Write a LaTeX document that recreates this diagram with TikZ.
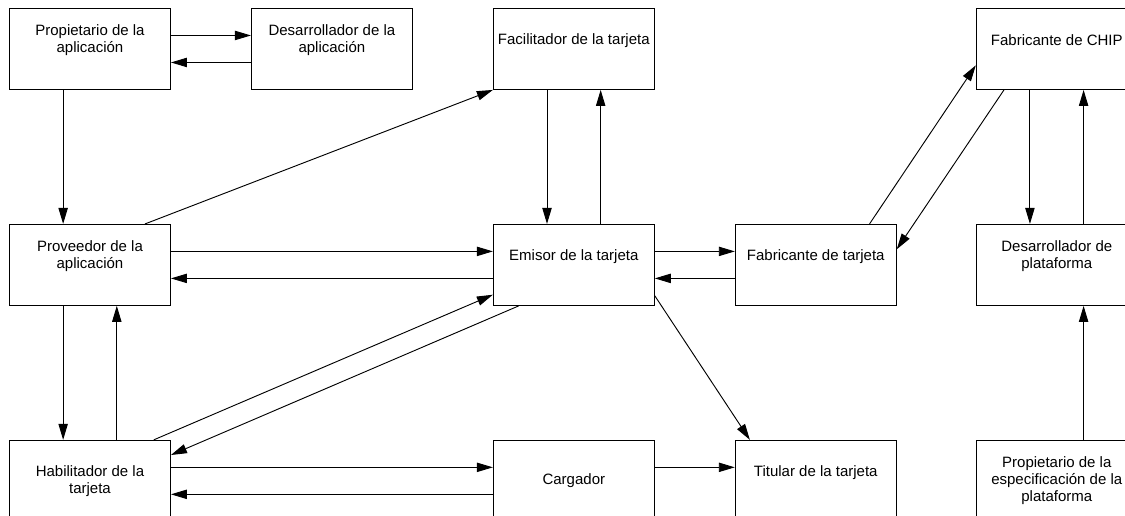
\documentclass[tikz,border=0pt]{standalone}
\usepackage{fontspec}
\setmainfont{Liberation Sans}
\usetikzlibrary{arrows.meta,calc,positioning}

\begin{document}
\begin{tikzpicture}[
	node distance=100.5pt and 60pt,
	caja/.style={
		draw,
		line width=0.7pt,
		minimum width=120.75pt,
		minimum height=60.75pt,
		inner sep=0pt
	},
	texto/.style={
		align=center,
		font=\fontsize{11.25}{12.75}\selectfont,
		yshift=#1
	},
	texto/.default=6.4pt,
	flecha/.style={
		line width=0.7pt,
		-{Triangle[length=12pt,width=7pt]}
	}
]
\useasboundingbox (0,0) rectangle (843.75pt,-387pt);

\node[caja, anchor=north west, label={[texto]center:Propietario de la\\aplicación}] (PROP) at (6.75pt,-6pt) {};
\node[caja, label={[texto]center:Desarrollador de la\\aplicación}] (DESA) [right=of PROP] {};
\node[caja, label={[texto]center:Facilitador de la tarjeta}] (FACIL) [right=of DESA] {};
\node[caja, label={[texto]center:Fabricante de CHIP}] (CHIP) [right=240.75pt of FACIL] {};

\node[caja, label={[texto]center:Proveedor de la\\aplicación}] (PROV) [below=of PROP] {};
\node[caja, label={[texto]center:Emisor de la tarjeta}] (EMISOR) [below=of FACIL] {};
\node[caja, label={[texto]center:Fabricante de tarjeta}] (FABT) [right=of EMISOR] {};
\node[caja, label={[texto]center:Desarrollador de\\plataforma}] (DESPLAT) [below=of CHIP] {};

\node[caja, label={[texto=0pt]center:Habilitador de la\\tarjeta}] (HABIL) [below=of PROV] {};
\node[caja, label={[texto=0pt]center:Cargador}] (CARG) [below=of EMISOR] {};
\node[caja, label={[texto]center:Titular de la tarjeta}] (TITULAR) [below=of FABT] {};
\node[caja, label={[texto=0pt]center:Propietario de la\\especificación de la\\plataforma}] (PROPESP) [below=of DESPLAT] {};

% horizontales
\draw[flecha] ([yshift=10.125pt]PROP.east) -- ([yshift=10.125pt]DESA.west);
\draw[flecha] ([yshift=-10.125pt]DESA.west) -- ([yshift=-10.125pt]PROP.east);
\draw[flecha] ([yshift=10.125pt]PROV.east) -- ([yshift=10.125pt]EMISOR.west);
\draw[flecha] ([yshift=-10.125pt]EMISOR.west) -- ([yshift=-10.125pt]PROV.east);
\draw[flecha] ([yshift=10.125pt]EMISOR.east) -- ([yshift=10.125pt]FABT.west);
\draw[flecha] ([yshift=-10.125pt]FABT.west) -- ([yshift=-10.125pt]EMISOR.east);
\draw[flecha] ([yshift=10.125pt]HABIL.east) -- ([yshift=10.125pt]CARG.west);
\draw[flecha] ([yshift=-10.125pt]CARG.west) -- ([yshift=-10.125pt]HABIL.east);
\draw[flecha] ([yshift=10.125pt]CARG.east) -- ([yshift=10.125pt]TITULAR.west);

% verticales
\draw[flecha] ([xshift=-20.125pt]PROP.south) -- ([xshift=-20.125pt]PROV.north);
\draw[flecha] ([xshift=-20.125pt]PROV.south) -- ([xshift=-20.125pt]HABIL.north);
\draw[flecha] ([xshift=20.125pt]HABIL.north) -- ([xshift=20.125pt]PROV.south);
\draw[flecha] ([xshift=-20.125pt]FACIL.south) -- ([xshift=-20.125pt]EMISOR.north);
\draw[flecha] ([xshift=20.125pt]EMISOR.north) -- ([xshift=20.125pt]FACIL.south);
\draw[flecha] ([xshift=-20.125pt]CHIP.south) -- ([xshift=-20.125pt]DESPLAT.north);
\draw[flecha] ([xshift=20.125pt]DESPLAT.north) -- ([xshift=20.125pt]CHIP.south);
\draw[flecha] ([xshift=20.125pt]PROPESP.north) -- ([xshift=20.125pt]DESPLAT.south);

% diagonales
\draw[flecha] ($(PROV.north west)!0.84!(PROV.north east)$) -- (FACIL.south west);
\draw[flecha] ($(HABIL.north west)!0.894!(HABIL.north east)$) -- ($(EMISOR.north west)!0.864!(EMISOR.south west)$);
\draw[flecha] ($(EMISOR.south west)!0.16!(EMISOR.south east)$) -- ($(HABIL.north east)!0.185!(HABIL.south east)$);
\draw[flecha] ($(EMISOR.north east)!0.877!(EMISOR.south east)$) -- ($(TITULAR.north west)!0.093!(TITULAR.north east)$);
\draw[flecha] ($(FABT.north west)!0.832!(FABT.north east)$) -- ($(CHIP.north west)!0.70!(CHIP.south west)$);
\draw[flecha] ($(CHIP.south west)!0.174!(CHIP.south east)$) -- ($(FABT.north east)!0.31!(FABT.south east)$);

\end{tikzpicture}
\end{document}
